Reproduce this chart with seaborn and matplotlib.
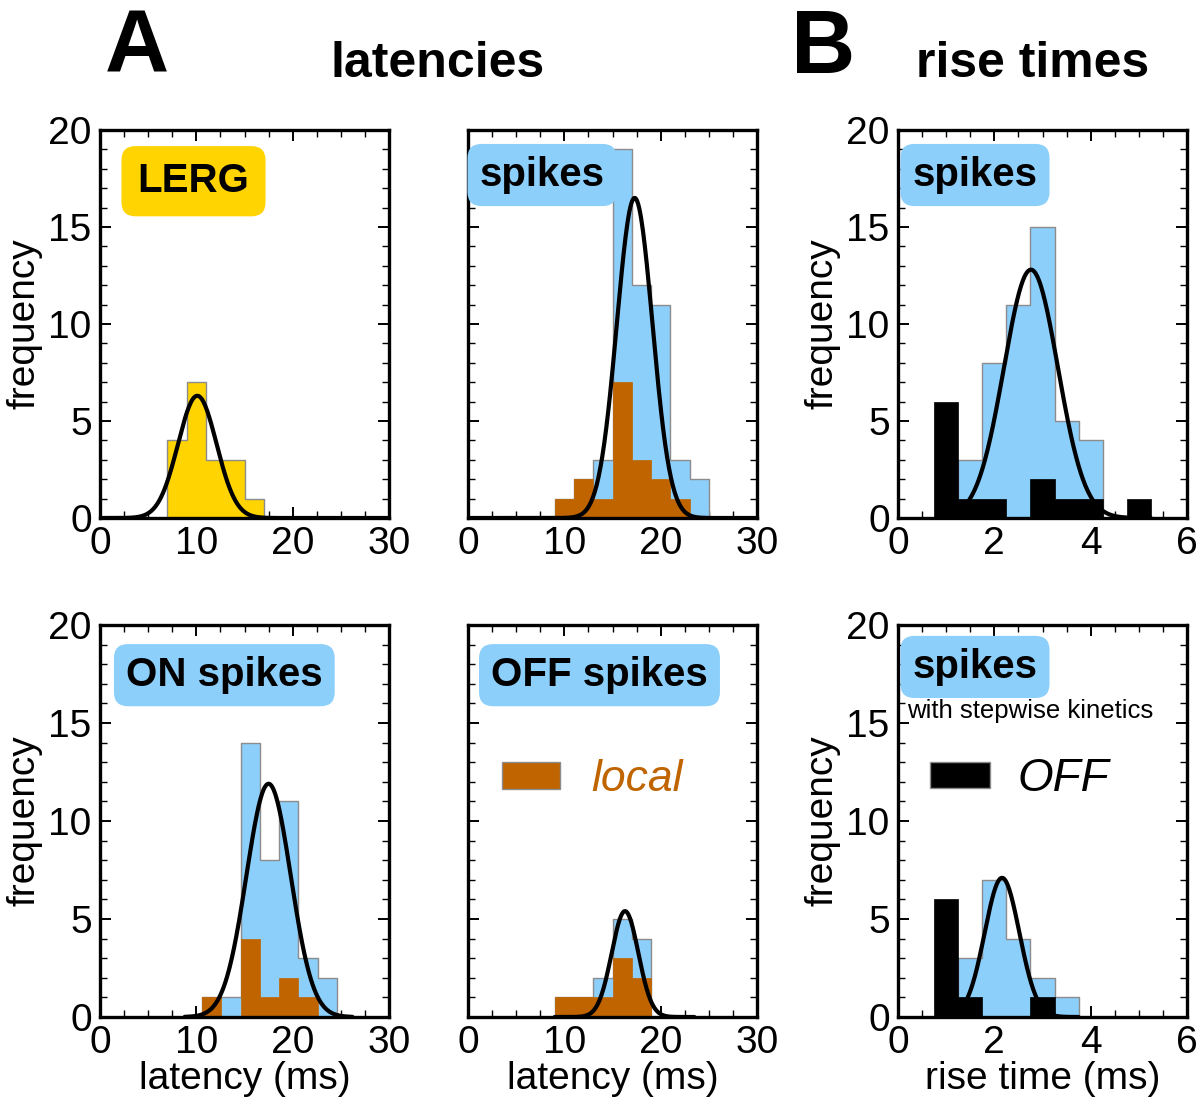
import numpy as np
import matplotlib
matplotlib.use("Agg")
import matplotlib.pyplot as plt
from matplotlib.patches import Patch
from matplotlib.ticker import MultipleLocator
from matplotlib import font_manager
import seaborn as sns

# ---------------------------------
# data
# ---------------------------------
# A, top left: LERG latencies
lerg_edges = [7, 9, 11, 13, 15, 17]
lerg_counts = [4, 7, 3, 3, 1]
lerg_fit = [10.1, 2.0, 6.3]          # mean, sd, peak
lerg_range = [0, 30]

# A, top middle: spike latencies (all / local)
lat_edges = [9, 11, 13, 15, 17, 19, 21, 23, 25]
lat_all = [1, 2, 3, 19, 12, 11, 3, 2]
lat_local = [1, 2, 1, 7, 3, 2, 1, 0]
lat_fit = [17.3, 1.85, 16.5]
lat_range = [0, 30]

# A, bottom left: ON spikes
on_edges = [10.6, 12.6, 14.6, 16.6, 18.6, 20.6, 22.6, 24.6]
on_all = [1, 1, 14, 8, 11, 3, 2]
on_local = [1, 0, 4, 1, 2, 1, 0]
on_fit = [17.5, 2.3, 11.9]
on_range = [8.8, 26.2]

# A, bottom middle: OFF spikes
off_edges = [9, 11, 13, 15, 17, 19]
off_all = [1, 1, 2, 5, 4]
off_local = [1, 1, 1, 3, 2]
off_fit = [16.3, 1.38, 5.4]
off_range = [9, 23.5]

# B, top: rise times (all / OFF)
rise_edges = [0.75, 1.25, 1.75, 2.25, 2.75, 3.25, 3.75, 4.25, 4.75, 5.25]
rise_all = [0, 3, 8, 11, 15, 5, 4, 0, 0]
rise_off = [6, 1, 1, 0, 2, 1, 1, 0, 1]
rise_fit = [2.76, 0.56, 12.8]
rise_range = [1.28, 5.25]

# B, bottom: stepwise kinetics
step_edges = [0.75, 1.25, 1.75, 2.25, 2.75, 3.25, 3.75]
step_all = [0, 3, 7, 4, 2, 1]
step_off = [6, 1, 0, 0, 1, 0]
step_fit = [2.16, 0.36, 7.1]
step_range = [1.32, 3.75]

# colours
gold = "#ffd400"
sky = "#8ccffb"
brown = "#c06400"
edge_grey = "#8c8c8c"

sns.set_theme(style="white")
plt.rcParams["font.family"] = ["Liberation Sans", "DejaVu Sans"]
plt.rcParams["text.color"] = "black"
plt.rcParams["axes.labelcolor"] = "black"
plt.rcParams["xtick.color"] = "black"
plt.rcParams["ytick.color"] = "black"
names = {f.name for f in font_manager.fontManager.ttflist}
narrow = "Liberation Sans Narrow" if "Liberation Sans Narrow" in names else "Liberation Sans"

fig = plt.figure(figsize=(12, 11.01), dpi=100)

W = 1200.0
H = 1101.0
col_x = [100, 468, 898]
col_w = 289
row_top = [130, 625]
row_bot = [518, 1017]


def make_ax(r, c):
    left = col_x[c] / W
    bottom = 1 - row_bot[r] / H
    height = (row_bot[r] - row_top[r]) / H
    return fig.add_axes([left, bottom, col_w / W, height])


def hist(ax, edges, counts, color, ec, lw=1.0):
    centers = [(edges[i] + edges[i + 1]) / 2 for i in range(len(counts))]
    sns.histplot(x=centers, weights=counts, bins=edges, ax=ax, color=color,
                 element="step", edgecolor=ec, linewidth=lw, alpha=1, stat="count")


def fit_curve(ax, fit, rng):
    mu, sd, amp = fit
    xs = np.linspace(rng[0], rng[1], 300)
    ys = amp * np.exp(-0.5 * ((xs - mu) / sd) ** 2)
    sns.lineplot(x=xs, y=ys, ax=ax, color="black", linewidth=3.0, estimator=None)


def style(ax, xmax, xmajor, xminor, ylabels=True):
    ax.set_xlim(0, xmax)
    ax.set_ylim(0, 20)
    ax.xaxis.set_major_locator(MultipleLocator(xmajor))
    ax.xaxis.set_minor_locator(MultipleLocator(xminor))
    ax.yaxis.set_major_locator(MultipleLocator(5))
    ax.yaxis.set_minor_locator(MultipleLocator(1))
    ax.tick_params(which="both", direction="in", top=True, right=True,
                   bottom=True, left=True, colors="black")
    ax.tick_params(which="major", length=8, width=1.4, labelsize=28, pad=6)
    ax.tick_params(which="minor", length=5, width=1.0)
    for s in ax.spines.values():
        s.set_linewidth(2.4)
        s.set_color("black")
        s.set_zorder(5)
    ax.set_xlabel("")
    ax.set_ylabel("")
    if ylabels:
        ax.set_ylabel("frequency", fontsize=28, labelpad=4)
    else:
        ax.set_yticklabels([])


def tag(ax, x, y, s, color, pad=0.3):
    ax.text(x, y, s, transform=ax.transAxes, ha="left", va="center",
            fontsize=29, fontweight="bold", zorder=6,
            bbox=dict(boxstyle="round,pad=%s,rounding_size=0.35" % pad,
                      facecolor=color, edgecolor="none"))


# ---- A top left: LERG
ax = make_ax(0, 0)
hist(ax, lerg_edges, lerg_counts, gold, edge_grey)
fit_curve(ax, lerg_fit, lerg_range)
style(ax, 30, 10, 2.5)
tag(ax, 0.13, 0.868, "LERG", gold, pad=0.4)

# ---- A top middle: spikes
ax = make_ax(0, 1)
hist(ax, lat_edges, lat_all, sky, edge_grey)
hist(ax, lat_edges, lat_local, brown, brown, 0.5)
fit_curve(ax, lat_fit, lat_range)
style(ax, 30, 10, 2.5, ylabels=False)
tag(ax, 0.04, 0.884, "spikes", sky)

# ---- B top: rise times
ax = make_ax(0, 2)
hist(ax, rise_edges, rise_all, sky, edge_grey)
hist(ax, rise_edges, rise_off, "black", "black", 0.5)
fit_curve(ax, rise_fit, rise_range)
style(ax, 6, 2, 0.5)
tag(ax, 0.05, 0.884, "spikes", sky)

# ---- A bottom left: ON spikes
ax = make_ax(1, 0)
hist(ax, on_edges, on_all, sky, edge_grey)
hist(ax, on_edges, on_local, brown, brown, 0.5)
fit_curve(ax, on_fit, on_range)
style(ax, 30, 10, 2.5)
ax.set_xlabel("latency (ms)", fontsize=28, labelpad=0)
tag(ax, 0.09, 0.872, "ON spikes", sky)

# ---- A bottom middle: OFF spikes
ax = make_ax(1, 1)
hist(ax, off_edges, off_all, sky, edge_grey)
hist(ax, off_edges, off_local, brown, brown, 0.5)
fit_curve(ax, off_fit, off_range)
style(ax, 30, 10, 2.5, ylabels=False)
ax.set_xlabel("latency (ms)", fontsize=28, labelpad=0)
tag(ax, 0.08, 0.872, "OFF spikes", sky)
leg = ax.legend(handles=[Patch(facecolor=brown, edgecolor=edge_grey)], labels=["local"],
                loc="center left", bbox_to_anchor=(0.118, 0.605), frameon=False,
                handlelength=1.3, handleheight=0.55, handletextpad=0.7,
                borderpad=0, borderaxespad=0,
                prop=dict(family=narrow, style="italic", size=32))
for t in leg.get_texts():
    t.set_color(brown)

# ---- B bottom: stepwise kinetics
ax = make_ax(1, 2)
hist(ax, step_edges, step_all, sky, edge_grey)
hist(ax, step_edges, step_off, "black", "black", 0.5)
fit_curve(ax, step_fit, step_range)
style(ax, 6, 2, 0.5)
ax.set_xlabel("rise time (ms)", fontsize=28, labelpad=0)
tag(ax, 0.05, 0.893, "spikes", sky)
ax.text(0.032, 0.78, "with stepwise kinetics", transform=ax.transAxes,
        ha="left", va="center", fontsize=18.5)
leg = ax.legend(handles=[Patch(facecolor="black", edgecolor=edge_grey)], labels=["OFF"],
                loc="center left", bbox_to_anchor=(0.111, 0.607), frameon=False,
                handlelength=1.3, handleheight=0.5, handletextpad=0.6,
                borderpad=0, borderaxespad=0,
                prop=dict(family=narrow, style="italic", size=33))

# ---- panel headings
fig.text(137 / W, 1 - 50 / H, "A", fontsize=64, fontweight="heavy", ha="center", va="center")
fig.text(438 / W, 1 - 64 / H, "latencies", fontsize=36, fontweight="bold", ha="center", va="center")
fig.text(823 / W, 1 - 50 / H, "B", fontsize=64, fontweight="heavy", ha="center", va="center")
fig.text(1033 / W, 1 - 64 / H, "rise times", fontsize=36, fontweight="bold", ha="center", va="center")

fig.savefig("out.png", dpi=100)
